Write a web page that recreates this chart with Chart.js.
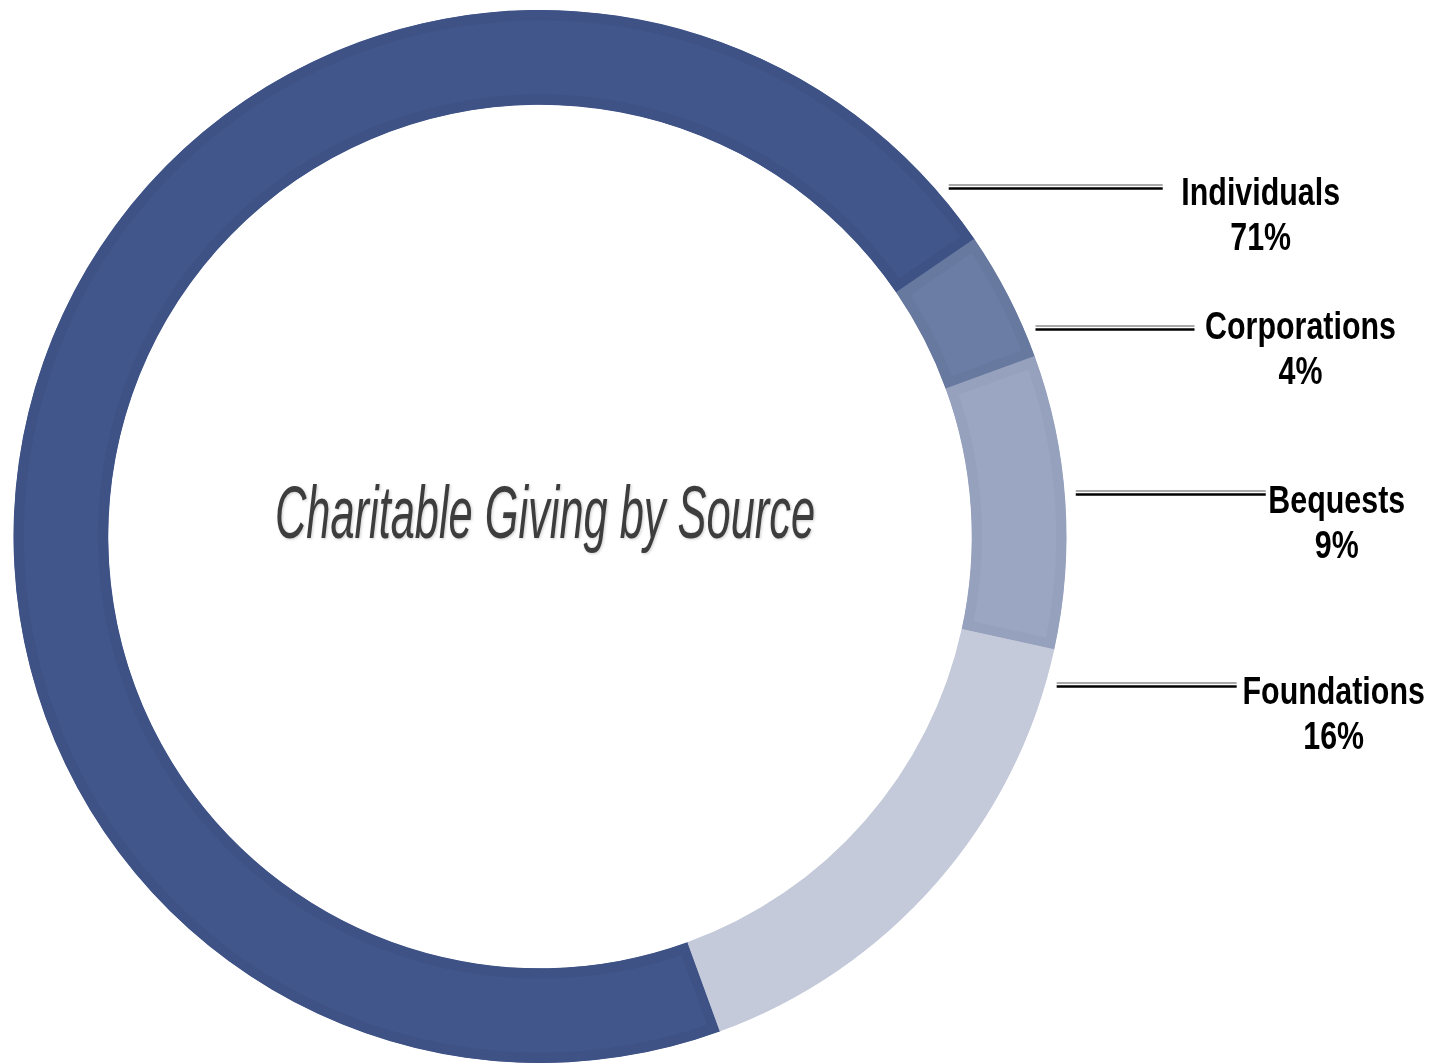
<!DOCTYPE html>
<html lang="en">
<head>
    <meta charset="UTF-8">
    <title>Charitable Giving by Source</title>
    <script src="https://cdn.jsdelivr.net/npm/chart.js"></script>
    <style>
        html, body { margin: 0; padding: 0; background: #fff; }
        .chart-container { position: relative; width: 1449px; height: 1063px; }
    </style>
</head>
<body>
    <div class="chart-container">
        <canvas id="givingChart"></canvas>
    </div>

    <script>
        // Data
        const sources = ['Individuals', 'Corporations', 'Bequests', 'Foundations'];
        const shares = [71, 4, 9, 16];
        const fillColors = ['#41568a', '#6b7da5', '#9ba6c2', '#c4cada'];
        const edgeColors = ['#3e5286', '#67799f', '#96a1bd', '#c4cada'];
        const chartTitle = 'Charitable Giving by Source';

        // Leader line layout (angle in degrees from 3 o'clock, clockwise; length in px)
        const leaderAngles = [-40.5, -22.8, -4.6, 16];
        const leaderLengths = [214, 159, 190, 180];
        const labelGaps = [98, 106, 71, 97];
        const labelShifts = [2, -5, 4, 3];

        // Draws the italic title in the hole and the labels with double leader lines
        const labelPlugin = {
            id: 'labelPlugin',
            afterDraw(chart) {
                const ctx = chart.ctx;
                const arc = chart.getDatasetMeta(0).data[0];
                const cx = arc.x, cy = arc.y, r = arc.outerRadius;

                // centre title, condensed
                ctx.save();
                ctx.font = 'italic 74px "Liberation Sans", Arial';
                ctx.fillStyle = '#3d3d3d';
                ctx.textAlign = 'center';
                ctx.textBaseline = 'alphabetic';
                ctx.shadowColor = 'rgba(0,0,0,0.2)';
                ctx.shadowBlur = 3;
                ctx.shadowOffsetX = 1;
                ctx.shadowOffsetY = 1;
                const w = ctx.measureText(chartTitle).width;
                ctx.translate(cx + 5, cy + 1);
                ctx.scale(540 / w, 1);
                ctx.fillText(chartTitle, 0, 0);
                ctx.restore();

                // labels
                sources.forEach((name, i) => {
                    const a = leaderAngles[i] * Math.PI / 180;
                    const x0 = cx + (r + 11) * Math.cos(a);
                    const y = Math.round(cy + (r + 11) * Math.sin(a));
                    const x1 = x0 + leaderLengths[i];

                    ctx.save();
                    ctx.strokeStyle = '#8c8c8c';
                    ctx.lineWidth = 1.5;
                    ctx.beginPath();
                    ctx.moveTo(x0, y - 2);
                    ctx.lineTo(x1, y - 2);
                    ctx.stroke();
                    ctx.strokeStyle = '#000';
                    ctx.lineWidth = 2.5;
                    ctx.beginPath();
                    ctx.moveTo(x0, y + 1.5);
                    ctx.lineTo(x1, y + 1.5);
                    ctx.stroke();

                    const tx = x1 + labelGaps[i];
                    ctx.font = 'bold 38px "Liberation Sans", Arial';
                    ctx.fillStyle = '#000';
                    ctx.textAlign = 'center';
                    ctx.textBaseline = 'alphabetic';
                    ctx.translate(tx, y + labelShifts[i]);
                    ctx.scale(0.8, 1);
                    ctx.fillText(name, 0, 16);
                    ctx.fillText(shares[i] + '%', 0, 61);
                    ctx.restore();
                });
            }
        };

        new Chart(document.getElementById('givingChart'), {
            type: 'doughnut',
            data: {
                labels: sources,
                datasets: [{
                    data: shares,
                    backgroundColor: fillColors,
                    borderColor: edgeColors,
                    borderWidth: 10,
                    borderAlign: 'inner'
                }]
            },
            options: {
                responsive: true,
                maintainAspectRatio: false,
                animation: false,
                rotation: 160,
                cutout: '82%',
                layout: {
                    padding: { left: 13, right: 382, top: 10, bottom: 0 }
                },
                plugins: {
                    legend: { display: false },
                    tooltip: { enabled: false },
                    title: { display: false }
                }
            },
            plugins: [labelPlugin]
        });
    </script>
</body>
</html>
